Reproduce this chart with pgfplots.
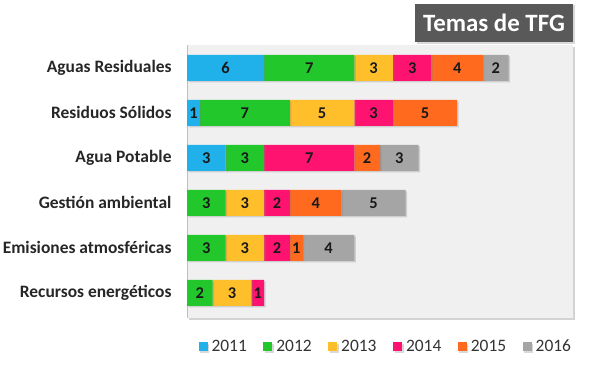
\documentclass[border=0pt]{standalone}
\usepackage{pgfplots}
\pgfplotsset{compat=1.18}
\usepackage{fontspec}
\setmainfont{Carlito}
\usetikzlibrary{shadows}
\definecolor{c2011}{HTML}{20B0EA}
\definecolor{c2012}{HTML}{22C72C}
\definecolor{c2013}{HTML}{FFBF2B}
\definecolor{c2014}{HTML}{FF1370}
\definecolor{c2015}{HTML}{FF6A1F}
\definecolor{c2016}{HTML}{A5A5A5}
\definecolor{plotbg}{HTML}{F0F0F0}
\definecolor{titlebg}{HTML}{595959}
\pgfplotstableread{
y  a  b  c  d  e  f
0  6  7  3  3  4  2
1  1  7  5  3  5  0
2  3  3  0  7  2  3
3  0  3  3  2  4  5
4  0  3  3  2  1  4
5  0  2  3  1  0  0
}\data
\begin{document}
\begin{tikzpicture}[x=1bp,y=1bp]
\path[use as bounding box] (0,0) rectangle (600,365);
\begin{axis}[
  at={(187bp,47bp)}, anchor=south west,
  scale only axis, width=386bp, height=273bp,
  xbar stacked, bar width=26bp,
  xmin=0, xmax=30,
  y dir=reverse, ymin=-0.51, ymax=5.56,
  ytick={0,1,2,3,4,5},
  yticklabels={Aguas Residuales,Residuos Sólidos,Agua Potable,Gestión ambiental,Emisiones atmosféricas,Recursos energéticos},
  yticklabel style={font=\fontsize{17.5}{19}\selectfont\bfseries, color=black!85, xshift=-12bp},
  major tick length=0pt,
  hide x axis,
  axis y line*=left,
  axis line style={black!25, -},
  axis background/.style={fill=plotbg, drop shadow={shadow xshift=2bp, shadow yshift=-2bp, opacity=0.35}},
  every axis plot/.append style={draw=none, drop shadow={shadow xshift=1.5bp, shadow yshift=-1.5bp, opacity=0.3}},
  nodes near coords={\pgfmathfloatifflags{\pgfplotspointmeta}{0}{}{\fontsize{16.5}{18}\selectfont\bfseries\pgfmathprintnumber[assume math mode=true]{\pgfplotspointmeta}}},
  every node near coord/.append style={color=black!90},
  legend columns=6,
  legend style={at={(0.515,-0.105)}, anchor=center, draw=none, fill=none, font=\fontsize{17.5}{19}\selectfont, text=black!80, /tikz/every even column/.append style={column sep=14.5bp}},
  legend image code/.code={\fill[#1] (0bp,-4.5bp) rectangle (9bp,4.5bp); \path (0bp,0bp) -- (11bp,0bp);},
]
\addplot[fill=c2011] table[x=a,y=y]{\data};
\addplot[fill=c2012] table[x=b,y=y]{\data};
\addplot[fill=c2013] table[x=c,y=y]{\data};
\addplot[fill=c2014] table[x=d,y=y]{\data};
\addplot[fill=c2015] table[x=e,y=y]{\data};
\addplot[fill=c2016] table[x=f,y=y]{\data};
\legend{2011,2012,2013,2014,2015,2016}
\end{axis}
\node[fill=titlebg, text=white, font=\fontsize{25}{28}\selectfont\bfseries, minimum width=158bp, minimum height=38bp, inner sep=0pt, drop shadow={shadow xshift=1.5bp, shadow yshift=-1.5bp, opacity=0.3}] at (494,342) {Temas de TFG};
\end{tikzpicture}
\end{document}
